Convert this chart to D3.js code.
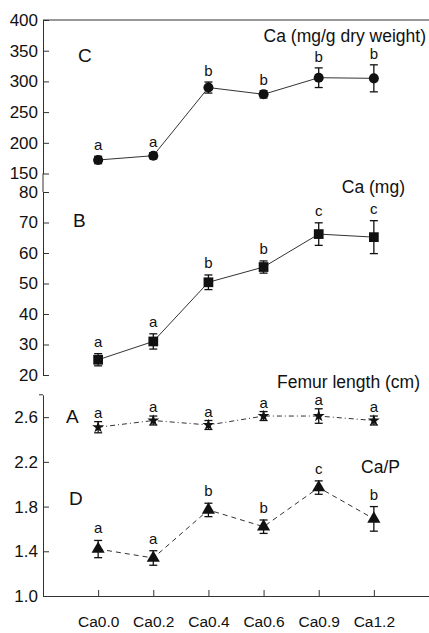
<!DOCTYPE html>
<html>
<head>
<meta charset="utf-8">
<script src="https://cdn.jsdelivr.net/npm/d3@7"></script>
<style>
  body { margin: 0; background: #fff; }
  svg { display: block; font-family: "Liberation Sans", Arial, sans-serif; }
</style>
</head>
<body>
<div id="chart"></div>
<script>
// treatment groups along the x axis
const categories = ['Ca0.0', 'Ca0.2', 'Ca0.4', 'Ca0.6', 'Ca0.9', 'Ca1.2'];

// C: Ca (mg/g dry weight)
const caDryMean = [172, 179, 290, 279, 306, 305];
const caDryErr = [6, 5, 9, 6, 16, 22];
const caDryLetters = ['a', 'a', 'b', 'b', 'b', 'b'];
const caDryTicks = [150, 200, 250, 300, 350, 400];

// B: Ca (mg)
const caMgMean = [25, 31, 50.4, 55.4, 66.2, 65.2];
const caMgErr = [2, 2.5, 2.4, 2, 3.7, 5.4];
const caMgLetters = ['a', 'a', 'b', 'b', 'c', 'c'];
const caMgTicks = [20, 30, 40, 50, 60, 70, 80];

// A: Femur length (cm)
const femurMean = [2.51, 2.57, 2.53, 2.61, 2.61, 2.57];
const femurErr = [0.05, 0.04, 0.04, 0.04, 0.065, 0.04];
const femurLetters = ['a', 'a', 'a', 'a', 'a', 'a'];

// D: Ca/P
const caPMean = [1.42, 1.34, 1.77, 1.62, 1.97, 1.69];
const caPErr = [0.077, 0.065, 0.06, 0.06, 0.06, 0.11];
const caPLetters = ['a', 'a', 'b', 'b', 'c', 'b'];
const ratioTicks = [1.0, 1.4, 1.8, 2.2, 2.6];

const W = 429, H = 633;
const axisX = 43, rightX = 429;
const ink = '#111', lineInk = '#333';

const svg = d3.select('#chart').append('svg')
  .attr('width', W).attr('height', H);

const x = d3.scalePoint().domain(categories).range([axisX, rightX]).padding(1);

const yC = d3.scaleLinear().domain([150, 400]).range([173.5, 20]);
const yB = d3.scaleLinear().domain([20, 80]).range([375, 192]);
const yAD = d3.scaleLinear().domain([1.0, 2.8]).range([596, 394.8]);

// y axes, ticks pointing inward
function drawYAxis(scale, ticks, fmt) {
  const g = svg.append('g')
    .attr('transform', `translate(${axisX},0)`)
    .call(d3.axisLeft(scale).tickValues(ticks).tickFormat(fmt).tickSize(-6).tickSizeOuter(0).tickPadding(5));
  g.select('.domain').attr('stroke', lineInk);
  g.selectAll('.tick line').attr('stroke', lineInk);
  g.selectAll('.tick text').attr('font-size', 17).attr('fill', ink)
    .attr('font-family', '"Liberation Sans", Arial, sans-serif');
  return g;
}
drawYAxis(yC, caDryTicks, d3.format('d'));
drawYAxis(yB, caMgTicks, d3.format('d'));
drawYAxis(yAD, ratioTicks, d3.format('.1f'));

// join C and B axis line, cap at top of A/D axis
svg.append('line')
  .attr('x1', axisX).attr('x2', axisX)
  .attr('y1', yC(150)).attr('y2', yB(80))
  .attr('stroke', lineInk);
svg.append('line')
  .attr('x1', axisX - 4).attr('x2', axisX)
  .attr('y1', yAD(2.8)).attr('y2', yAD(2.8))
  .attr('stroke', lineInk);

// top frame line
svg.append('line')
  .attr('x1', axisX).attr('x2', rightX)
  .attr('y1', yC(400)).attr('y2', yC(400))
  .attr('stroke', lineInk);

// x axis
const gx = svg.append('g')
  .attr('transform', `translate(0,${yAD(1.0)})`)
  .call(d3.axisBottom(x).tickSize(-6).tickSizeOuter(0));
gx.select('.domain').attr('stroke', lineInk);
gx.selectAll('.tick line').attr('stroke', lineInk);
gx.selectAll('.tick text')
  .attr('y', 20).attr('dy', '0.71em')
  .attr('font-size', 15.5).attr('fill', ink)
  .attr('font-family', '"Liberation Sans", Arial, sans-serif');

function drawSeries(scale, mean, err, letters, symbolType, symbolSize, dash, gap) {
  const pts = categories.map((c, i) => ({ c, m: mean[i], e: err[i], l: letters[i] }));

  const line = d3.line().x(d => x(d.c)).y(d => scale(d.m));
  svg.append('path')
    .datum(pts)
    .attr('fill', 'none')
    .attr('stroke', lineInk)
    .attr('stroke-width', 1)
    .attr('stroke-dasharray', dash)
    .attr('d', line);

  const g = svg.append('g');
  const eb = g.selectAll('.eb').data(pts).join('g');
  eb.append('line')
    .attr('x1', d => x(d.c)).attr('x2', d => x(d.c))
    .attr('y1', d => scale(d.m - d.e)).attr('y2', d => scale(d.m + d.e))
    .attr('stroke', ink).attr('stroke-width', 1.3);
  [1, -1].forEach(s => {
    eb.append('line')
      .attr('x1', d => x(d.c) - 4).attr('x2', d => x(d.c) + 4)
      .attr('y1', d => scale(d.m + s * d.e)).attr('y2', d => scale(d.m + s * d.e))
      .attr('stroke', ink).attr('stroke-width', 1.3);
  });

  g.selectAll('.mk').data(pts).join('path')
    .attr('transform', d => `translate(${x(d.c)},${scale(d.m)})`)
    .attr('d', d3.symbol().type(symbolType).size(symbolSize))
    .attr('fill', ink);

  g.selectAll('.lt').data(pts).join('text')
    .attr('x', d => x(d.c))
    .attr('y', d => scale(d.m + d.e) - gap)
    .attr('text-anchor', 'middle')
    .attr('font-size', 15)
    .attr('fill', ink)
    .text(d => d.l);
}

drawSeries(yC, caDryMean, caDryErr, caDryLetters, d3.symbolCircle, 80, null, 6);
drawSeries(yB, caMgMean, caMgErr, caMgLetters, d3.symbolSquare, 95, null, 7);
drawSeries(yAD, femurMean, femurErr, femurLetters, d3.symbolStar, 45, '5,3,1,3', 4);
drawSeries(yAD, caPMean, caPErr, caPLetters, d3.symbolTriangle, 75, '5,4', 7);

// panel titles and letters
const titles = [
  { t: 'Ca (mg/g dry weight)', x: 426, y: 42 },
  { t: 'Ca (mg)', x: 405, y: 193 },
  { t: 'Femur length (cm)', x: 420, y: 388 },
  { t: 'Ca/P', x: 400, y: 473 }
];
svg.selectAll('.title').data(titles).join('text')
  .attr('x', d => d.x).attr('y', d => d.y)
  .attr('text-anchor', 'end')
  .attr('font-size', 17.5).attr('fill', ink)
  .text(d => d.t);

const panelLetters = [
  { t: 'C', x: 78, y: 62 },
  { t: 'B', x: 73, y: 227 },
  { t: 'A', x: 66, y: 423 },
  { t: 'D', x: 69, y: 505 }
];
svg.selectAll('.plet').data(panelLetters).join('text')
  .attr('x', d => d.x).attr('y', d => d.y)
  .attr('font-size', 19).attr('fill', ink)
  .text(d => d.t);
</script>
</body>
</html>
